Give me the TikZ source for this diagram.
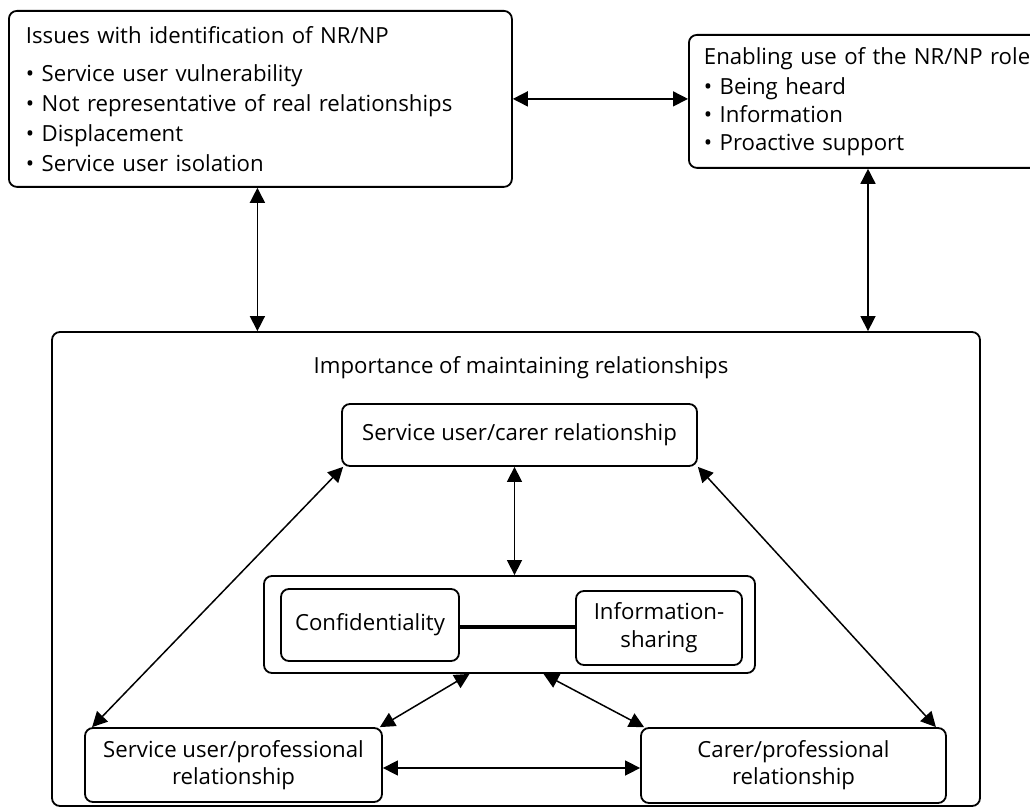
\documentclass[tikz,border=0pt]{standalone}
\usepackage{fontspec}
\setmainfont{Open Sans}
\usetikzlibrary{arrows.meta, positioning, calc}

\begin{document}
\begin{tikzpicture}[
    x=1pt, y=-1pt,
    box/.style={draw, rounded corners=8pt, line width=1.8pt, align=center, inner sep=0pt,
      font=\fontsize{22.2}{27}\selectfont},
    listbox/.style={box, align=left, font=\fontsize{22.2}{30}\selectfont},
    twoway/.style={{Triangle[length=15pt,width=15pt]}-{Triangle[length=15pt,width=15pt]}, line width=1.5pt}
  ]
    \useasboundingbox (0,0) rectangle (1030,810);

    % top row
    \node[listbox, anchor=north west, text width=469pt, inner xsep=17pt, minimum height=176pt] (issues) at (8,10)
      {Issues with identification of NR/NP\\[8pt]
       \textbullet\ Service user vulnerability\\
       \textbullet\ Not representative of real relationships\\
       \textbullet\ Displacement\\
       \textbullet\ Service user isolation};
    \node[listbox, anchor=north west, text width=340pt, inner xsep=15pt, minimum height=133pt,
      font=\fontsize{22.2}{28}\selectfont] (enabling) at (688,34)
      {Enabling use of the NR/NP role\\[2pt]
       \textbullet\ Being heard\\
       \textbullet\ Information\\
       \textbullet\ Proactive support};

    % big box with the relationships
    \node[box, minimum width=928pt, minimum height=474pt] (maint) at (516,569) {};
    \node[font=\fontsize{22.2}{27}\selectfont] (mtitle) at (521,368) {Importance of maintaining relationships};

    \node[box, minimum width=355pt, minimum height=62pt] (carer) at (519.5,435) {Service user/carer relationship};
    \node[box, minimum width=491pt, minimum height=97pt] (pair) at (509.5,624.5) {};
    \node[box, minimum width=178pt, minimum height=72pt] (conf) at (370,625) {Confidentiality};
    \node[box, minimum width=166pt, minimum height=74pt, font=\fontsize{22.2}{28}\selectfont] (info) at (659,628) {Information-\\sharing};
    \node[box, minimum width=297pt, minimum height=74pt] (usprof) at (233.5,765) {Service user/professional\\relationship};
    \node[box, minimum width=305pt, minimum height=75pt] (cprof) at (793.5,765.5) {Carer/professional\\relationship};

    % connectors
    \draw[twoway] (issues.east) -- (issues.east -| enabling.west);
    \draw[twoway] ([xshift=-3pt]issues.south) -- ([xshift=-3pt]issues.south |- maint.north);
    \draw[twoway] ([xshift=180pt]enabling.south west) -- ([xshift=180pt]enabling.south west |- maint.north);
    \draw[twoway] ([xshift=-5pt]carer.south) -- ([xshift=-5pt]carer.south |- pair.north);
    \draw[twoway] ([xshift=2pt]carer.south west) -- ([xshift=8pt]usprof.north west);
    \draw[twoway] (carer.south east) -- ([xshift=-11pt]cprof.north east);
    \draw[twoway] ([xshift=-40pt]pair.south) -- ([xshift=-3pt]usprof.north east);
    \draw[twoway] ([xshift=34pt]pair.south) -- ([xshift=4pt]cprof.north west);
    \draw[twoway] ([yshift=-3pt]usprof.east) -- ([yshift=-3pt]usprof.east -| cprof.west);
    \draw[line width=4pt] ([yshift=-2pt]conf.east) -- ([yshift=-2pt]conf.east -| info.west);
\end{tikzpicture}
\end{document}
